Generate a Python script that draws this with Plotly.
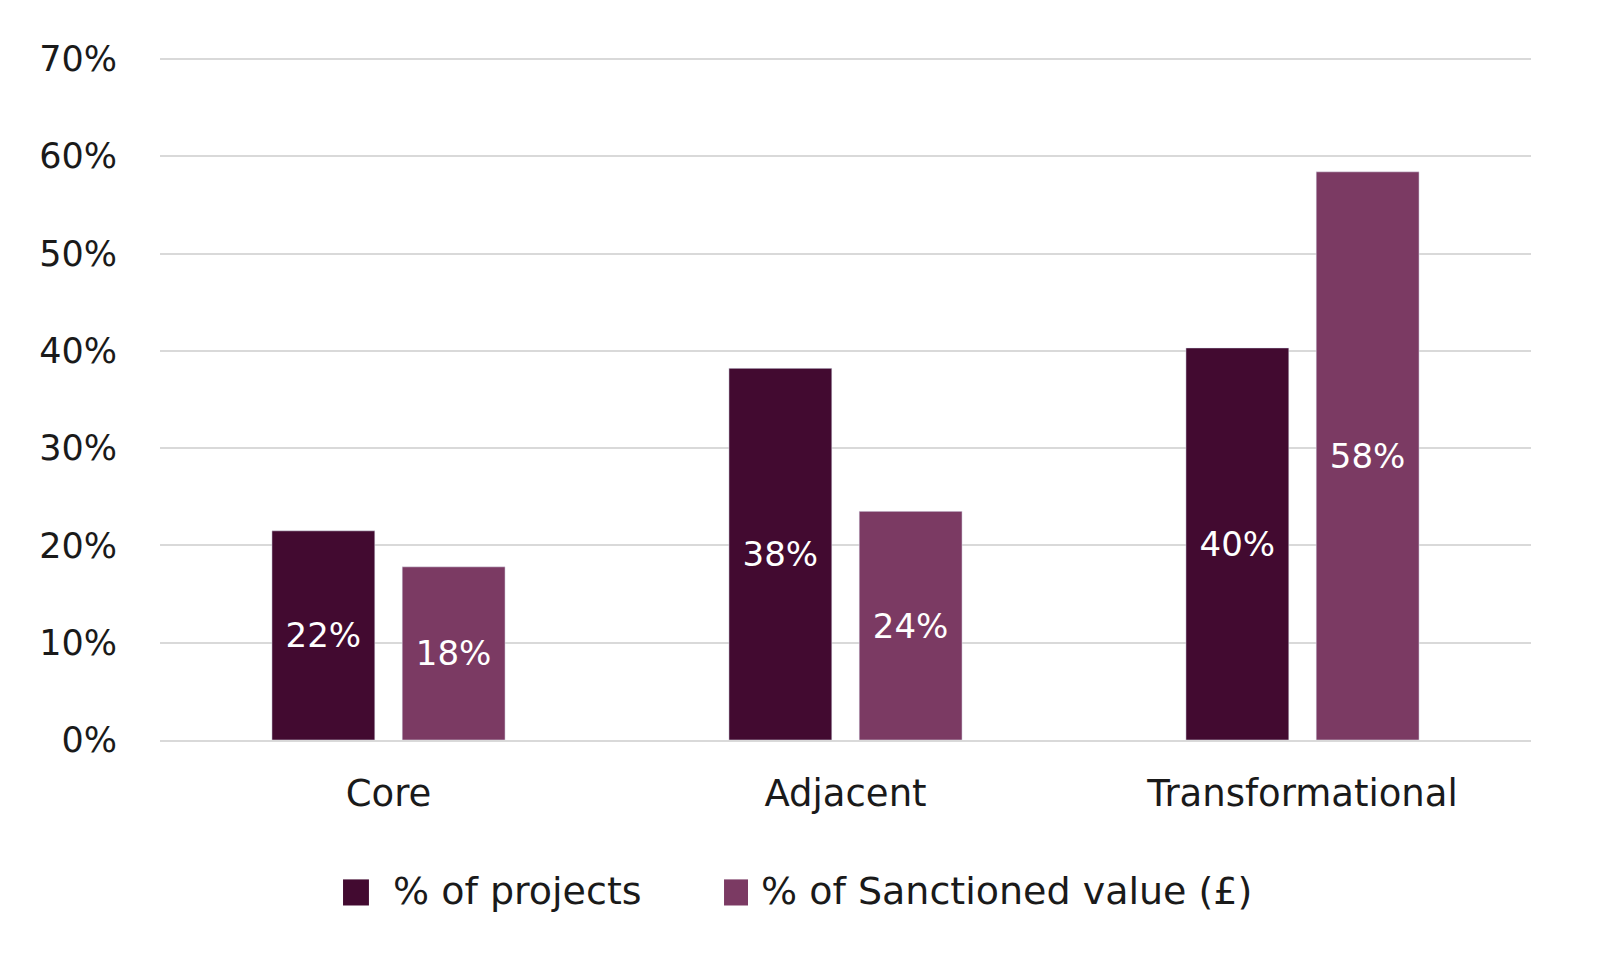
import plotly.graph_objects as go

categories = ["Core", "Adjacent", "Transformational"]
series_names = ["% of projects", "% of Sanctioned value (£)"]
projects = [21.5, 38.2, 40.3]
sanctioned = [17.8, 23.5, 58.4]
projects_labels = ["22%", "38%", "40%"]
sanctioned_labels = ["18%", "24%", "58%"]
y_ticks = [0, 10, 20, 30, 40, 50, 60, 70]
y_tick_labels = ["0%", "10%", "20%", "30%", "40%", "50%", "60%", "70%"]

colors = ["#420a30", "#7b3a63"]
font_family = "DejaVu Sans, sans-serif"

fig = go.Figure()
for name, vals, labels, col in zip(series_names, [projects, sanctioned],
                                   [projects_labels, sanctioned_labels], colors):
    fig.add_trace(go.Bar(
        x=categories, y=vals, name=name,
        text=labels, textposition="inside", insidetextanchor="middle",
        textfont=dict(color="white", size=34, family=font_family),
        marker=dict(color=col), showlegend=False,
    ))

# hand-made legend with large square keys
legend_pos = [(0.1335, 0.1524, 0.1685), (0.4114, 0.4289, 0.4369)]
for (x0, x1, xt), name, col in zip(legend_pos, series_names, colors):
    fig.add_shape(type="rect", xref="paper", yref="paper",
                  x0=x0, x1=x1, y0=-0.2423, y1=-0.2041,
                  fillcolor=col, line=dict(width=0))
    fig.add_annotation(x=xt, y=-0.2215, xref="paper", yref="paper",
                       text=name, showarrow=False, xanchor="left", yanchor="middle",
                       font=dict(size=38, family=font_family, color="#1a1a1a"))

fig.update_layout(
    width=1601, height=971,
    margin=dict(l=152, r=78, t=49, b=239),
    paper_bgcolor="white", plot_bgcolor="white",
    barmode="group", bargap=0.43, bargroupgap=0.21,
    font=dict(family=font_family, size=34, color="#1a1a1a"),
    showlegend=False,
)
fig.update_yaxes(
    range=[0, 70.2], tickvals=y_ticks, ticktext=y_tick_labels,
    showgrid=True, gridcolor="#d9d9d9", gridwidth=2,
    zeroline=False, showline=False, ticks="", ticklabelstandoff=42,
    tickfont=dict(size=35),
)
fig.update_xaxes(
    showline=True, linecolor="#d9d9d9", linewidth=2, ticks="",
    tickfont=dict(size=37), ticklabelstandoff=20,
)

fig.write_html("out.html")
